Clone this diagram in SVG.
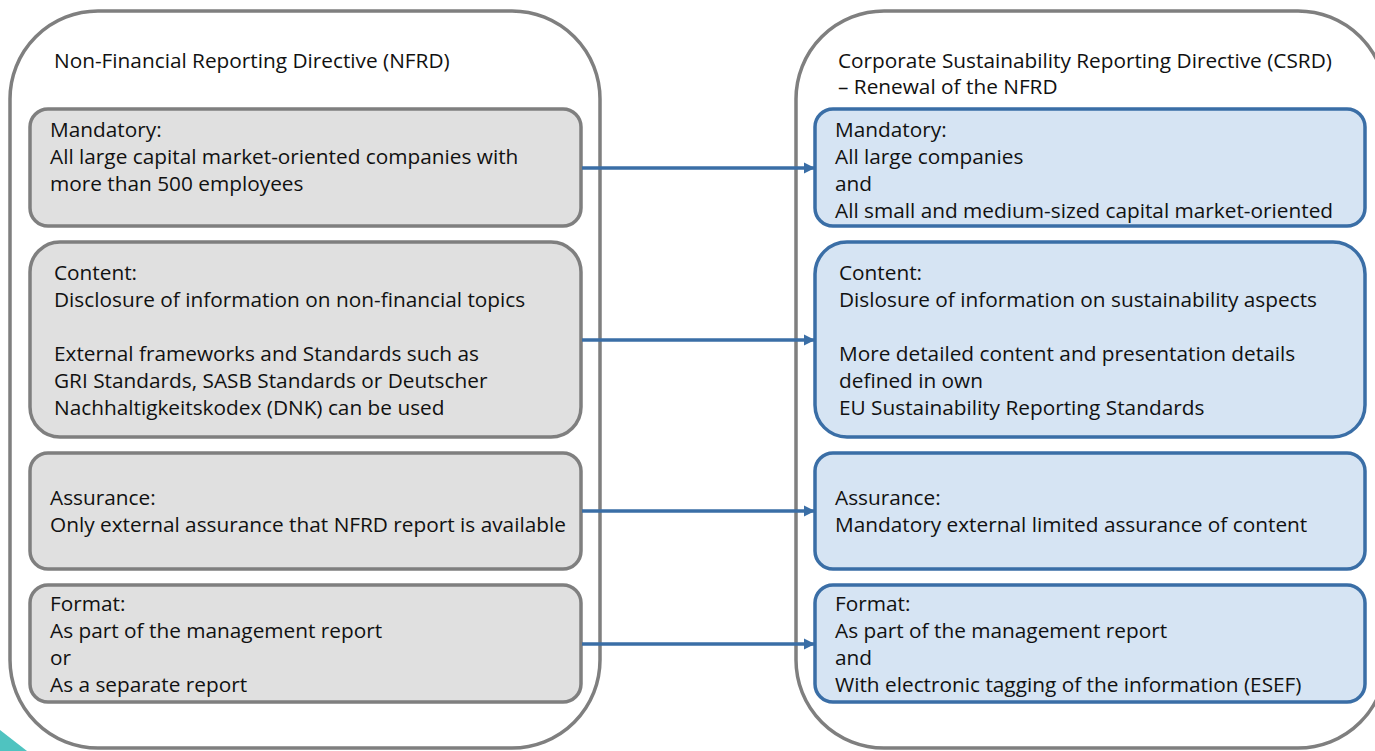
<svg xmlns="http://www.w3.org/2000/svg" width="1375" height="751" viewBox="0 0 1375 751">
<defs>
<style>
.cont{fill:#ffffff;stroke:#7f7f7f;stroke-width:3.5}
.gbox{fill:#e0e0e0;stroke:#7f7f7f;stroke-width:3.5}
.bbox{fill:#d6e4f3;stroke:#3a6ea6;stroke-width:3.5}
text{font-family:"Open Sans","Noto Sans","Liberation Sans",sans-serif;font-size:20.8px;fill:#111}
.conn{stroke:#3a6ea6;stroke-width:3.5;fill:none;marker-end:url(#ah)}
</style>
<marker id="ah" viewBox="0 0 10 10" refX="10" refY="5" markerWidth="3.2" markerHeight="3.2" orient="auto" markerUnits="strokeWidth">
<path d="M0,0 L10,5 L0,10 Z" fill="#3a6ea6"/>
</marker>
</defs>
<rect width="1375" height="751" fill="#ffffff"/>
<polygon points="0,730 27,751 0,751" fill="#4fc3c0"/>

<g id="nfrd">
<rect class="cont" x="10" y="11" width="590" height="737" rx="88" ry="88"/>
<text x="54" y="68">Non-Financial Reporting Directive (NFRD)</text>
</g>
<g id="csrd">
<rect class="cont" x="796" y="11" width="590" height="737" rx="88" ry="88"/>
<text x="838" y="68">Corporate Sustainability Reporting Directive (CSRD)</text>
<text x="838" y="94">– Renewal of the NFRD</text>
</g>

<g id="nfrd-mandatory">
<rect class="gbox" x="30" y="109" width="551" height="117" rx="18"/>
<text x="50" y="137">Mandatory:</text>
<text x="50" y="164">All large capital market-oriented companies with</text>
<text x="50" y="191">more than 500 employees</text>
</g>
<g id="nfrd-content">
<rect class="gbox" x="30" y="242" width="551" height="195" rx="30"/>
<text x="54" y="280">Content:</text>
<text x="54" y="307">Disclosure of information on non-financial topics</text>
<text x="54" y="361">External frameworks and Standards such as</text>
<text x="54" y="388">GRI Standards, SASB Standards or Deutscher</text>
<text x="54" y="415">Nachhaltigkeitskodex (DNK) can be used</text>
</g>
<g id="nfrd-assurance">
<rect class="gbox" x="30" y="453" width="551" height="116" rx="18"/>
<text x="50" y="505">Assurance:</text>
<text x="50" y="532">Only external assurance that NFRD report is available</text>
</g>
<g id="nfrd-format">
<rect class="gbox" x="30" y="585" width="551" height="117" rx="18"/>
<text x="50" y="611">Format:</text>
<text x="50" y="638">As part of the management report</text>
<text x="50" y="665">or</text>
<text x="50" y="692">As a separate report</text>
</g>

<g id="csrd-mandatory">
<rect class="bbox" x="815" y="109" width="550" height="117" rx="18"/>
<text x="835" y="137">Mandatory:</text>
<text x="835" y="164">All large companies</text>
<text x="835" y="191">and</text>
<text x="835" y="218">All small and medium-sized capital market-oriented</text>
</g>
<g id="csrd-content">
<rect class="bbox" x="815" y="242" width="550" height="195" rx="32"/>
<text x="839" y="280">Content:</text>
<text x="839" y="307">Dislosure of information on sustainability aspects</text>
<text x="839" y="361">More detailed content and presentation details</text>
<text x="839" y="388">defined in own</text>
<text x="839" y="415">EU Sustainability Reporting Standards</text>
</g>
<g id="csrd-assurance">
<rect class="bbox" x="815" y="453" width="550" height="116" rx="18"/>
<text x="835" y="505">Assurance:</text>
<text x="835" y="532">Mandatory external limited assurance of content</text>
</g>
<g id="csrd-format">
<rect class="bbox" x="815" y="585" width="550" height="117" rx="18"/>
<text x="835" y="611">Format:</text>
<text x="835" y="638">As part of the management report</text>
<text x="835" y="665">and</text>
<text x="835" y="692">With electronic tagging of the information (ESEF)</text>
</g>

<g id="connectors">
<line class="conn" x1="582" y1="168" x2="815" y2="168"/>
<line class="conn" x1="582" y1="340" x2="815" y2="340"/>
<line class="conn" x1="582" y1="511" x2="815" y2="511"/>
<line class="conn" x1="582" y1="644" x2="815" y2="644"/>
</g>
</svg>
